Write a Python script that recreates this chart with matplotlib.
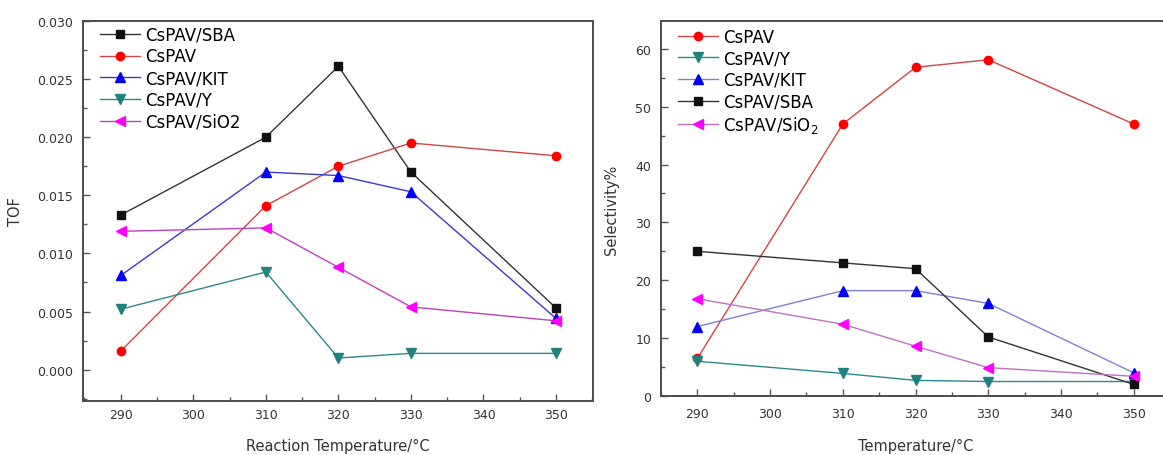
import matplotlib

matplotlib.use("Agg")
import matplotlib.pyplot as plt
from matplotlib.ticker import MultipleLocator

temps = [290, 310, 320, 330, 350]

# turnover frequency per catalyst
tof_sba = [0.0133, 0.0200, 0.0261, 0.0170, 0.0053]
tof_cspav = [0.0016, 0.0141, 0.0175, 0.0195, 0.0184]
tof_kit = [0.0081, 0.0170, 0.0167, 0.0153, 0.0044]
tof_y = [0.0052, 0.0084, 0.0010, 0.0014, 0.0014]
tof_sio2 = [0.0119, 0.0122, 0.0088, 0.0054, 0.0042]

# selectivity (%) per catalyst
sel_cspav = [6.5, 47.0, 56.8, 58.1, 47.0]
sel_y = [6.0, 3.9, 2.7, 2.5, 2.5]
sel_kit = [12.0, 18.2, 18.2, 16.0, 4.0]
sel_sba = [25.0, 23.0, 22.0, 10.2, 2.0]
sel_sio2 = [16.8, 12.4, 8.6, 4.9, 3.4]

BLACK = "#111111"
RED = "#ff0000"
BLUE = "#0000ff"
TEAL = "#218080"
MAGENTA = "#ff00ff"

plt.rcParams["font.family"] = ["DejaVu Sans"]

fig = plt.figure(figsize=(11.63, 4.56), dpi=100)
ax1 = fig.add_axes([0.0714, 0.1184, 0.4385, 0.8334])
ax2 = fig.add_axes([0.5684, 0.1294, 0.4377, 0.8224])


def series(ax, y, color, marker, label, lc=None, ms=6):
    ax.plot(temps, y, color=lc or color, linewidth=1.0, marker=marker,
            markersize=ms, markerfacecolor=color, markeredgecolor=color,
            label=label)


series(ax1, tof_sba, BLACK, "s", "CsPAV/SBA", lc="#333333", ms=5.5)
series(ax1, tof_cspav, RED, "o", "CsPAV", lc="#d04545")
series(ax1, tof_kit, BLUE, "^", "CsPAV/KIT", lc="#3a3ad0", ms=7)
series(ax1, tof_y, TEAL, "v", "CsPAV/Y", lc="#2a8a8a", ms=7)
series(ax1, tof_sio2, MAGENTA, "<", "CsPAV/SiO2", lc="#c040c0", ms=7)

series(ax2, sel_cspav, RED, "o", "CsPAV", lc="#d04545")
series(ax2, sel_y, TEAL, "v", "CsPAV/Y", lc="#2a8a8a", ms=7)
series(ax2, sel_kit, BLUE, "^", "CsPAV/KIT", lc="#8080d0", ms=7)
series(ax2, sel_sba, BLACK, "s", "CsPAV/SBA", lc="#333333", ms=5.5)
series(ax2, sel_sio2, MAGENTA, "<", "CsPAV/SiO$_2$", lc="#c070c0", ms=7)

ax1.set_xlim(284.8, 355.1)
ax1.set_ylim(-0.0027, 0.030)
ax1.xaxis.set_major_locator(MultipleLocator(10))
ax1.xaxis.set_minor_locator(MultipleLocator(5))
ax1.yaxis.set_major_locator(MultipleLocator(0.005))
ax1.yaxis.set_minor_locator(MultipleLocator(0.0025))
ax1.yaxis.set_major_formatter(lambda v, p: f"{v:.3f}")
ax1.set_xticks([290, 300, 310, 320, 330, 340, 350])
ax1.set_xlabel("Reaction Temperature/°C", fontsize=10.5, color="#333333", labelpad=12)
ax1.set_ylabel("TOF", fontsize=10.5, color="#333333", labelpad=10)

ax2.set_xlim(285.0, 355.0)
ax2.set_ylim(0, 64.8)
ax2.xaxis.set_major_locator(MultipleLocator(10))
ax2.xaxis.set_minor_locator(MultipleLocator(5))
ax2.yaxis.set_major_locator(MultipleLocator(10))
ax2.yaxis.set_minor_locator(MultipleLocator(5))
ax2.set_xticks([290, 300, 310, 320, 330, 340, 350])
ax2.set_xlabel("Temperature/°C", fontsize=10.5, color="#333333", labelpad=13)
ax2.set_ylabel("Selectivity%", fontsize=10.5, color="#333333", labelpad=12)

for ax in (ax1, ax2):
    for side in ax.spines.values():
        side.set_color("#4d4d4d")
        side.set_linewidth(1.4)
    ax.tick_params(which="major", direction="in", length=5, width=1,
                   colors="#555555", labelcolor="#333333", labelsize=9, pad=7)
    ax.tick_params(which="minor", direction="in", length=3, width=1,
                   colors="#555555")

ax1.tick_params(axis="x", pad=5)
ax2.tick_params(axis="x", pad=8)

leg_kw = dict(frameon=False, fontsize=12, handlelength=2.4, handletextpad=0.3,
              labelspacing=0.22, borderaxespad=0.0)
ax1.legend(loc="upper left", bbox_to_anchor=(0.02, 1.005), **leg_kw)
ax2.legend(loc="upper left", bbox_to_anchor=(0.02, 1.0), **leg_kw)

fig.savefig("out.png", dpi=100)
